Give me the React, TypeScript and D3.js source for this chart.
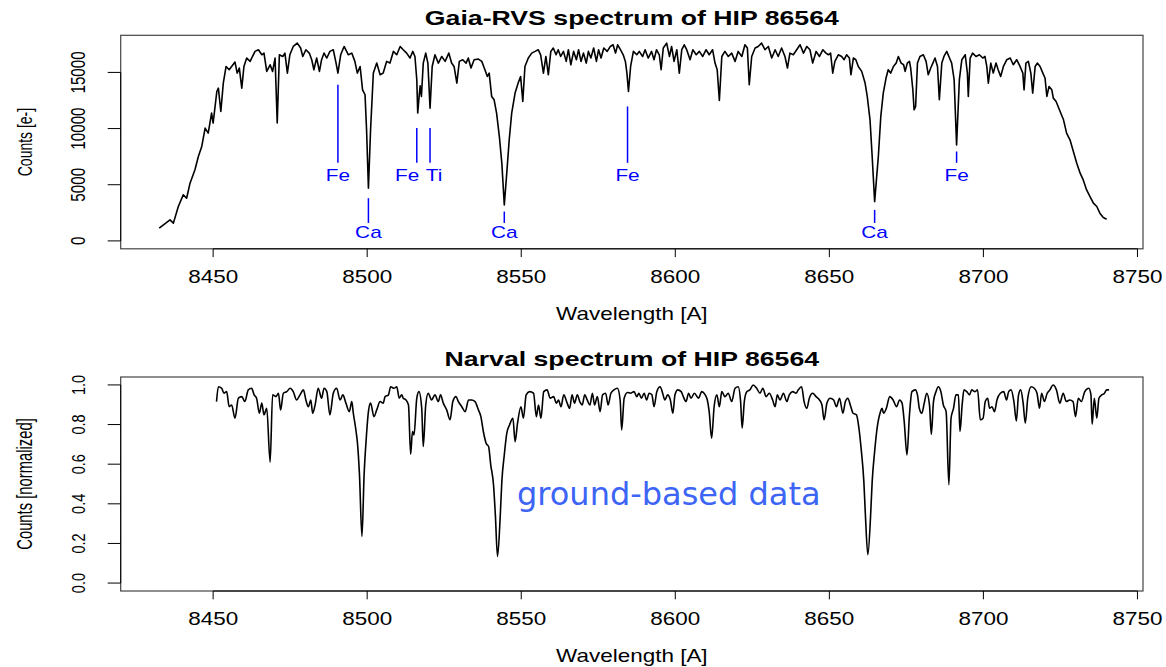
import React from 'react';
import * as d3 from 'd3';

// --- data ---
const wavelengthTicks = [8450, 8500, 8550, 8600, 8650, 8700, 8750];
const countTicks = [0, 5000, 10000, 15000];
const normTicks = [0, 0.2, 0.4, 0.6, 0.8, 1.0];

// Gaia-RVS spectrum [wavelength A, counts e-]
const gaiaSpectrum: [number, number][] = [
  [8432.5,1130],[8436.0,1870],[8437.1,1580],[8438.7,3060],[8440.3,4100],[8441.4,3800],[8442.5,5140],[8444.1,6330],[8445.2,7510],[8446.3,8400],
  [8447.4,10040],[8448.4,9600],[8449.5,11380],[8450.0,10490],[8451.2,13300],[8451.7,13600],[8452.5,11520],[8453.3,14050],[8454.2,15530],[8455.2,15240],
  [8456.0,15530],[8457.1,15920],[8457.8,14940],[8458.5,15390],[8459.3,13600],[8460.0,15530],[8460.9,16280],[8462.0,15980],[8462.8,16420],[8463.6,16870],
  [8464.7,17020],[8465.8,16570],[8466.5,16720],[8467.4,15090],[8468.5,15680],[8469.3,15090],[8470.1,16280],[8470.8,10490],[8471.5,16570],[8472.6,16420],
  [8473.3,16720],[8474.1,14940],[8474.9,16570],[8476.0,17310],[8477.3,17610],[8478.4,17170],[8479.1,16420],[8480.1,17020],[8481.2,16720],[8482.0,16130],
  [8482.7,15240],[8483.6,16280],[8484.5,15090],[8485.2,16130],[8486.0,16720],[8486.9,16280],[8487.9,16870],[8489.0,17020],[8489.9,15830],[8490.5,14940],
  [8491.4,16570],[8492.5,17310],[8493.9,16570],[8495.0,16720],[8496.0,15980],[8496.8,14940],[8497.7,15530],[8498.5,13450],[8499.3,13010],[8499.8,9890],
  [8500.4,4700],[8501.1,9890],[8502.0,14940],[8503.1,15830],[8504.2,14790],[8505.2,14940],[8506.3,15980],[8507.4,15830],[8508.5,16870],[8509.6,16570],
  [8510.7,17310],[8511.7,17020],[8512.8,16720],[8513.9,16280],[8514.8,16870],[8515.5,16420],[8516.1,14350],[8516.4,11380],[8516.9,13010],[8517.2,13800],
  [8517.6,12860],[8518.2,15830],[8519.0,16720],[8519.7,15830],[8520.4,11820],[8521.1,15530],[8522.0,16570],[8523.1,15830],[8524.2,16420],[8525.3,15980],
  [8526.5,16720],[8527.4,15830],[8528.2,15530],[8529.1,14050],[8529.9,15980],[8531.0,16130],[8532.1,15830],[8532.8,16280],[8533.7,15390],[8534.7,16130],
  [8536.1,16190],[8537.2,15980],[8538.2,15240],[8539.0,14640],[8539.6,14940],[8540.4,12860],[8541.2,12560],[8542.0,11380],[8542.9,9290],[8543.7,6920],
  [8544.5,3210],[8545.3,6030],[8546.1,9000],[8546.9,11380],[8548.0,13160],[8549.0,14050],[8549.8,14640],[8550.5,12410],[8551.2,15530],[8552.3,16280],
  [8553.4,16720],[8554.5,16870],[8555.5,17020],[8556.3,16570],[8557.2,14940],[8558.0,16420],[8558.8,14790],[8559.6,16870],[8560.4,17170],[8561.3,16570],
  [8562.0,17020],[8562.8,16420],[8563.7,16870],[8564.6,15980],[8565.3,17020],[8566.1,15680],[8567.0,16870],[8567.9,16130],[8568.6,17020],[8569.4,15980],
  [8570.2,16720],[8571.1,15830],[8571.8,16870],[8572.6,16280],[8573.5,17170],[8574.4,15980],[8575.1,17020],[8575.9,16280],[8576.8,17170],[8577.9,16870],
  [8578.9,17310],[8579.8,17460],[8580.6,16720],[8581.3,17460],[8582.2,17020],[8583.1,16570],[8583.8,15980],[8584.3,14940],[8584.8,13300],[8585.5,15530],
  [8586.4,16870],[8587.5,16570],[8588.3,16870],[8589.4,16420],[8590.2,17020],[8591.2,16280],[8592.3,16870],[8593.1,16130],[8593.9,17020],[8594.8,16570],
  [8595.4,15240],[8596.1,17170],[8597.2,17610],[8598.1,16420],[8598.8,17310],[8599.6,15980],[8600.5,17020],[8601.3,14940],[8602.1,17020],[8602.9,17460],
  [8603.7,17020],[8604.8,16130],[8605.7,17020],[8606.8,16570],[8607.8,16870],[8608.9,16420],[8610.0,17020],[8611.0,16570],[8612.1,17020],[8612.9,15830],
  [8613.6,15240],[8614.3,12500],[8615.1,16420],[8616.1,16870],[8617.2,16420],[8618.3,16720],[8619.4,15980],[8620.4,16870],[8621.6,16420],[8622.6,17460],
  [8623.4,17170],[8624.0,13900],[8624.8,16420],[8625.9,17170],[8626.9,17310],[8628.0,17610],[8629.1,17020],[8630.2,17310],[8631.3,16280],[8632.4,17020],
  [8633.4,16420],[8634.5,17170],[8635.6,16420],[8636.4,15390],[8637.2,16720],[8638.3,16570],[8639.4,17020],[8640.5,17460],[8641.6,16720],[8642.7,17310],
  [8643.7,17020],[8644.6,15830],[8645.7,16870],[8646.8,16420],[8647.9,17020],[8648.9,16720],[8649.7,16570],[8650.4,16720],[8651.1,14940],[8651.8,15980],
  [8652.9,16570],[8654.0,16420],[8654.8,16130],[8655.6,16570],[8656.5,16280],[8657.0,14790],[8657.8,16280],[8658.6,16130],[8659.4,15530],[8660.5,15090],
  [8661.6,14050],[8662.3,12860],[8663.2,10780],[8663.9,7510],[8664.7,3500],[8665.9,7510],[8666.7,11080],[8667.5,13160],[8668.4,14500],[8669.1,15240],
  [8669.9,14940],[8670.8,15530],[8671.7,15830],[8672.4,16420],[8673.3,15830],[8674.1,15680],[8674.6,15090],[8675.3,15830],[8676.0,15980],[8676.4,15390],
  [8677.1,13450],[8677.5,11670],[8678.0,11970],[8678.6,15830],[8679.4,16420],[8680.5,16570],[8681.4,15980],[8682.1,14790],[8682.9,15390],[8683.6,15830],
  [8684.3,16280],[8685.1,15530],[8685.7,12560],[8686.5,15830],[8687.2,16420],[8688.1,16870],[8689.0,16280],[8689.7,15830],[8690.5,14350],[8691.3,8550],
  [8692.2,14350],[8693.0,16130],[8694.1,16570],[8694.8,14940],[8695.1,12860],[8695.7,16280],[8696.5,16720],[8697.6,16420],[8698.7,16570],[8699.8,16280],
  [8700.5,16420],[8701.1,15530],[8701.6,14050],[8702.4,15830],[8703.2,14940],[8704.1,15830],[8704.8,15240],[8705.6,14640],[8706.5,15530],[8707.6,16130],
  [8708.7,16280],[8709.7,15680],[8710.8,16130],[8711.9,15530],[8712.8,14940],[8713.2,13450],[8713.8,15830],[8714.6,15980],[8715.4,14940],[8716.0,13160],
  [8716.8,15530],[8717.5,15830],[8718.4,15530],[8719.3,14940],[8720.0,14500],[8720.6,12860],[8721.3,13750],[8722.2,13450],[8722.7,12710],[8723.6,12410],
  [8724.9,11520],[8726.0,10780],[8727.0,9600],[8728.1,9000],[8729.2,7960],[8730.3,6920],[8731.4,6030],[8732.4,5430],[8733.5,4540],[8734.6,3950],
  [8735.7,3360],[8736.8,3060],[8737.8,2470],[8738.9,2080],[8740.0,1930],
];

// Narval spectrum [wavelength A, normalized counts]
const narvalSpectrum: [number, number][] = [
  [8451.1,0.916],[8451.7,0.991],[8452.8,0.983],[8453.5,0.958],[8454.4,0.966],[8455.2,0.890],[8456.0,0.899],[8457.1,0.832],[8458.2,0.933],[8459.3,0.941],
  [8460.3,0.916],[8461.4,0.975],[8462.5,0.983],[8463.3,0.950],[8464.1,0.933],[8465.0,0.857],[8465.8,0.908],[8466.5,0.849],[8467.4,0.882],[8468.5,0.610],
  [8469.3,0.950],[8470.4,0.941],[8471.2,0.958],[8471.9,0.874],[8472.8,0.958],[8473.9,0.966],[8475.0,0.983],[8476.0,0.966],[8477.1,0.924],[8478.2,0.950],
  [8479.3,0.975],[8480.1,0.924],[8480.9,0.890],[8481.7,0.924],[8482.3,0.857],[8483.1,0.899],[8484.1,0.983],[8485.2,0.933],[8486.0,0.983],[8486.9,0.966],
  [8487.9,0.849],[8489.0,0.958],[8490.1,0.983],[8491.2,0.924],[8492.1,0.950],[8493.1,0.908],[8494.2,0.865],[8495.0,0.916],[8495.5,0.857],[8496.4,0.765],
  [8496.8,0.714],[8497.5,0.546],[8498.3,0.235],[8499.0,0.546],[8499.7,0.731],[8500.4,0.865],[8501.1,0.908],[8502.2,0.840],[8503.1,0.874],[8504.2,0.916],
  [8505.2,0.908],[8505.8,0.941],[8506.9,0.950],[8507.6,0.991],[8508.7,0.983],[8509.6,0.991],[8510.4,0.933],[8511.2,0.950],[8511.7,0.933],[8512.6,0.924],
  [8513.4,0.899],[8514.1,0.650],[8514.7,0.765],[8515.2,0.748],[8516.1,0.933],[8516.8,0.966],[8517.7,0.882],[8518.2,0.689],[8519.0,0.899],[8519.8,0.958],
  [8520.9,0.924],[8522.0,0.950],[8523.1,0.916],[8523.8,0.950],[8524.7,0.908],[8525.8,0.874],[8526.9,0.824],[8527.8,0.916],[8528.8,0.941],[8529.6,0.916],
  [8530.7,0.890],[8531.8,0.865],[8532.9,0.924],[8533.9,0.924],[8535.0,0.916],[8536.1,0.874],[8536.9,0.840],[8537.7,0.765],[8538.6,0.706],[8539.4,0.689],
  [8540.1,0.597],[8541.0,0.496],[8541.6,0.344],[8542.3,0.134],[8543.2,0.344],[8543.7,0.512],[8544.5,0.647],[8545.3,0.756],[8546.2,0.798],[8547.3,0.832],
  [8548.0,0.714],[8548.8,0.807],[8549.9,0.890],[8550.7,0.832],[8551.6,0.950],[8552.7,0.966],[8554.0,0.958],[8554.9,0.840],[8555.6,0.899],[8556.4,0.832],
  [8557.3,0.966],[8558.4,0.975],[8559.4,0.933],[8560.5,0.941],[8561.4,0.908],[8562.1,0.924],[8562.9,0.890],[8563.8,0.950],[8564.9,0.908],[8565.7,0.882],
  [8566.5,0.950],[8567.3,0.908],[8568.2,0.950],[8569.0,0.916],[8569.8,0.899],[8570.6,0.950],[8571.4,0.924],[8572.3,0.899],[8573.1,0.958],[8573.8,0.899],
  [8574.7,0.941],[8575.6,0.865],[8576.4,0.950],[8577.4,0.958],[8578.2,0.899],[8579.1,0.958],[8580.1,0.975],[8581.2,0.983],[8582.1,0.924],[8582.6,0.773],
  [8583.4,0.933],[8584.5,0.962],[8585.5,0.958],[8586.6,0.966],[8587.5,0.941],[8588.2,0.958],[8589.0,0.933],[8589.9,0.958],[8590.7,0.924],[8591.5,0.958],
  [8592.4,0.950],[8593.1,0.890],[8594.0,0.966],[8595.1,0.991],[8595.9,0.958],[8596.6,0.924],[8597.5,0.950],[8598.4,0.924],[8599.2,0.857],[8599.9,0.950],
  [8600.8,0.975],[8601.9,0.966],[8602.6,0.941],[8603.5,0.916],[8604.3,0.958],[8605.1,0.933],[8606.2,0.958],[8607.5,0.933],[8608.6,0.966],[8609.7,0.950],
  [8610.4,0.924],[8611.0,0.865],[8611.8,0.731],[8612.6,0.890],[8613.5,0.950],[8614.3,0.890],[8615.1,0.966],[8616.1,0.941],[8617.2,0.958],[8618.3,0.916],
  [8619.4,0.983],[8620.4,0.991],[8621.2,0.916],[8621.7,0.782],[8622.4,0.916],[8623.2,0.966],[8624.2,0.975],[8625.3,1.000],[8626.4,0.983],[8627.5,0.958],
  [8628.4,0.983],[8629.5,0.941],[8630.5,0.958],[8631.6,0.924],[8632.4,0.890],[8633.1,0.950],[8634.0,0.924],[8635.1,0.958],[8636.2,0.916],[8637.0,0.950],
  [8638.1,0.966],[8639.2,0.958],[8639.9,0.975],[8641.0,0.991],[8641.8,0.916],[8642.7,0.882],[8643.5,0.933],[8644.6,0.958],[8645.7,0.941],[8646.8,0.924],
  [8647.6,0.899],[8648.3,0.824],[8649.2,0.908],[8650.3,0.933],[8651.4,0.924],[8652.3,0.890],[8653.3,0.933],[8654.4,0.857],[8655.2,0.916],[8656.0,0.933],
  [8656.8,0.899],[8657.7,0.857],[8658.8,0.849],[8659.6,0.782],[8660.3,0.681],[8661.2,0.512],[8661.7,0.344],[8662.5,0.143],[8663.4,0.344],[8663.9,0.512],
  [8664.7,0.664],[8665.5,0.782],[8666.6,0.865],[8667.1,0.882],[8667.6,0.857],[8668.5,0.882],[8669.6,0.941],[8670.7,0.924],[8671.8,0.890],[8672.8,0.924],
  [8673.6,0.908],[8674.3,0.815],[8675.2,0.647],[8676.0,0.849],[8676.8,0.966],[8677.9,0.975],[8678.6,0.950],[8679.2,0.882],[8680.0,0.857],[8680.8,0.908],
  [8681.6,0.958],[8682.5,0.899],[8683.1,0.751],[8683.8,0.916],[8684.6,0.966],[8685.4,0.991],[8686.2,0.966],[8687.0,0.899],[8687.9,0.865],[8688.8,0.496],
  [8689.5,0.832],[8690.3,0.882],[8691.1,0.950],[8691.9,0.950],[8692.4,0.765],[8693.1,0.899],[8693.7,0.975],[8694.6,0.966],[8695.5,0.950],[8696.2,0.975],
  [8697.3,0.966],[8698.1,0.975],[8699.0,0.824],[8699.9,0.832],[8700.6,0.916],[8701.4,0.933],[8702.0,0.882],[8702.8,0.890],[8703.6,0.865],[8704.4,0.924],
  [8705.5,0.958],[8706.6,0.966],[8707.5,0.924],[8708.2,0.966],[8709.0,0.975],[8709.9,0.916],[8710.7,0.818],[8711.4,0.950],[8712.1,0.975],[8712.9,0.908],
  [8713.6,0.807],[8714.4,0.933],[8715.5,0.991],[8716.5,0.983],[8717.4,0.958],[8718.2,0.882],[8718.9,0.958],[8719.8,0.916],[8720.7,0.958],[8721.6,0.975],
  [8722.6,1.000],[8723.7,0.975],[8724.8,0.908],[8725.9,0.958],[8726.9,0.916],[8728.0,0.924],[8729.1,0.916],[8729.9,0.840],[8730.8,0.933],[8731.8,0.916],
  [8732.9,0.966],[8734.2,0.983],[8734.9,0.950],[8735.3,0.802],[8736.0,0.933],[8736.8,0.832],[8737.5,0.933],[8738.4,0.950],[8739.3,0.958],[8740.0,0.975],
  [8740.8,0.975],
];

// line identifications on the Gaia spectrum
const lineLabels = ['Fe', 'Ca', 'Fe', 'Ti', 'Ca', 'Fe', 'Ca', 'Fe'];
const lineWavelengths = [8490.5, 8500.4, 8516.1, 8520.4, 8544.5, 8584.5, 8664.7, 8691.3];
const lineTopCounts = [13900, 3800, 10040, 10040, 2610, 11970, 2760, 7960];
const lineBottomCounts = [6950, 1600, 6950, 6950, 1600, 6950, 1600, 6950];
const labelWavelengths = [8490.5, 8500.4, 8513.0, 8521.7, 8544.5, 8584.5, 8664.7, 8691.3];
const labelCounts = [5300, 270, 5300, 5300, 270, 5300, 270, 5300];

const FONT = '"Liberation Sans", Arial, Helvetica, sans-serif';

// R-ish text that comes out horizontally stretched in the reference
const SText = ({ x, y, sx = 1.27, rotate = false, children, ...rest }: any) => (
  <text
    transform={`translate(${x},${y}) scale(${sx},1)${rotate ? ' rotate(-90)' : ''}`}
    fontFamily={FONT}
    {...rest}
  >
    {children}
  </text>
);

const App = () => {
  const x = d3.scaleLinear().domain([8420, 8751.8]).range([120.7, 1143]);

  const top = { t: 35.3, b: 248.8 };
  const bot = { t: 377, b: 591 };
  const yTop = d3.scaleLinear().domain([-704, 18304]).range([top.b, top.t]);
  const yBot = d3.scaleLinear().domain([-0.04, 1.04]).range([bot.b, bot.t]);

  const gaiaLine = d3.line<[number, number]>()
    .x(d => x(d[0]))
    .y(d => yTop(d[1]));
  const narvalLine = d3.line<[number, number]>()
    .x(d => x(d[0]))
    .y(d => yBot(d[1]))
    .curve(d3.curveMonotoneX);

  const xl = x(8420), xr = x(8751.8);
  const cx = (xl + xr) / 2;

  const xAxis = (yb: number, labelY: number) => (
    <g>
      <line x1={x(wavelengthTicks[0])} x2={x(wavelengthTicks[wavelengthTicks.length - 1])} y1={yb} y2={yb} stroke="#000" strokeWidth={1} />
      {wavelengthTicks.map(t => (
        <g key={t}>
          <line x1={x(t)} x2={x(t)} y1={yb} y2={yb + 8.3} stroke="#000" strokeWidth={1} />
          <SText x={x(t)} y={labelY} textAnchor="middle" fontSize={17.7} fill="#000">{t}</SText>
        </g>
      ))}
    </g>
  );

  const yAxis = (scale: any, ticks: number[], fmt: (v: number) => string, fs: number, sx: number) => (
    <g>
      <line x1={xl} x2={xl} y1={scale(ticks[0])} y2={scale(ticks[ticks.length - 1])} stroke="#000" strokeWidth={1} />
      {ticks.map(t => (
        <g key={t}>
          <line x1={xl - 13} x2={xl} y1={scale(t)} y2={scale(t)} stroke="#000" strokeWidth={1} />
          <SText x={84.5} y={scale(t)} rotate sx={sx} textAnchor="middle" fontSize={fs} fill="#000">{fmt(t)}</SText>
        </g>
      ))}
    </g>
  );

  return (
    <svg width={1166} height={667} style={{ position: 'absolute', left: 0, top: 0, background: '#fff' }}>
      <rect width={1166} height={667} fill="#fff" />

      {/* ---------- top panel: Gaia-RVS ---------- */}
      <SText x={cx} y={25} textAnchor="middle" fontSize={21} fontWeight="bold" fill="#000">
        Gaia-RVS spectrum of HIP 86564
      </SText>
      <rect x={xl} y={top.t} width={xr - xl} height={top.b - top.t} fill="none" stroke="#444" strokeWidth={1.2} />
      {xAxis(top.b, 282.7)}
      {yAxis(yTop, countTicks, v => String(v), 15.2, 1.3)}
      <SText x={cx} y={320} textAnchor="middle" fontSize={17.7} fill="#000">Wavelength [A]</SText>
      <SText x={32} y={(top.t + top.b) / 2} rotate sx={1.5} textAnchor="middle" fontSize={14} fill="#000">Counts [e-]</SText>

      <path d={gaiaLine(gaiaSpectrum) || ''} fill="none" stroke="#000" strokeWidth={1.6} strokeLinejoin="round" />

      {lineLabels.map((lab, i) => (
        <g key={i}>
          <line
            x1={x(lineWavelengths[i])} x2={x(lineWavelengths[i])}
            y1={yTop(lineTopCounts[i])} y2={yTop(lineBottomCounts[i])}
            stroke="#0000ff" strokeWidth={1.5}
          />
          <SText x={x(labelWavelengths[i])} y={yTop(labelCounts[i])} sx={1.3} textAnchor="middle" fontSize={16} fill="#0000ff">
            {lab}
          </SText>
        </g>
      ))}

      {/* ---------- bottom panel: Narval ---------- */}
      <SText x={cx} y={366} textAnchor="middle" fontSize={21} fontWeight="bold" fill="#000">
        Narval spectrum of HIP 86564
      </SText>
      <rect x={xl} y={bot.t} width={xr - xl} height={bot.b - bot.t} fill="none" stroke="#444" strokeWidth={1.2} />
      {xAxis(bot.b, 625)}
      {yAxis(yBot, normTicks, v => v.toFixed(1), 14.5, 1.3)}
      <SText x={cx} y={662} textAnchor="middle" fontSize={17.7} fill="#000">Wavelength [A]</SText>
      <SText x={32} y={(bot.t + bot.b) / 2} rotate sx={1.45} textAnchor="middle" fontSize={14.8} fill="#000">Counts [normalized]</SText>

      <path d={narvalLine(narvalSpectrum) || ''} fill="none" stroke="#000" strokeWidth={1.6} strokeLinejoin="round" />

      <text x={517} y={505} fontFamily='"DejaVu Sans", Verdana, sans-serif' fontSize={32} fill="#3c64f5">
        ground-based data
      </text>
    </svg>
  );
};

export default App;
